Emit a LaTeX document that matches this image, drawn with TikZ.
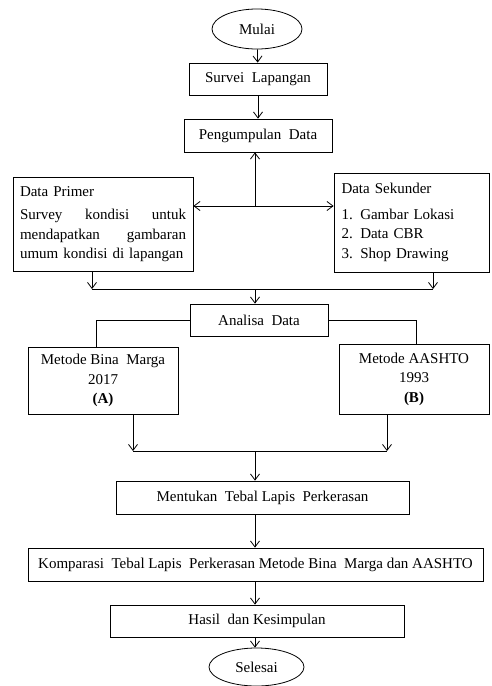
\documentclass[tikz,border=0pt]{standalone}
\usepackage{fontspec}
\setmainfont{Liberation Serif}
\usetikzlibrary{shapes.geometric, arrows.meta, positioning}

\begin{document}
\begin{tikzpicture}[x=1pt, y=-1pt,
  box/.style={draw, line width=0.8pt, align=center, inner sep=3pt},
  term/.style={draw, ellipse, line width=0.8pt, inner sep=0pt},
  arr/.style={-{Straight Barb[length=6pt,width=9pt]}, line width=0.8pt},
  font=\fontsize{15}{19.5}\selectfont]
  \useasboundingbox (0,0) rectangle (491,686);

  % alur utama
  \node[term, minimum width=90pt, minimum height=40pt] (mulai) at (257,29) {Mulai};
  \node[box, minimum width=138pt, minimum height=32pt] (survei) at (258,79) {Survei\ \ Lapangan};
  \node[box, minimum width=148pt, minimum height=33pt] (kumpul) at (258,135.5) {Pengumpulan\ \ Data};

  \node[box, minimum width=180pt, minimum height=94pt, text width=166pt, align=left, inner sep=7pt] (primer) at (103,224)
    {Data Primer\\[4pt]
     Survey\hfill kondisi\hfill untuk\\
     mendapatkan\hfill gambaran\\
     \mbox{umum kondisi di lapangan}};
  \node[box, minimum width=155pt, minimum height=99pt, text width=140pt, align=left, inner sep=7pt] (sekunder) at (411.5,222.5)
    {Data Sekunder\\[6pt]
     1. Gambar Lokasi\\
     2. Data CBR\\
     3. Shop Drawing};

  \node[box, minimum width=138pt, minimum height=32pt] (analisa) at (259,320) {Analisa\ \ Data};
  \node[box, minimum width=150pt, minimum height=67pt] (bina) at (103,380.5)
    {Metode Bina\ \ Marga\\2017\\\textbf{(A)}};
  \node[box, minimum width=150pt, minimum height=70pt] (aashto) at (414,379)
    {Metode AASHTO\\1993\\\textbf{(B)}};

  \node[box, minimum width=293pt, minimum height=33pt] (mentukan) at (262.5,497.5) {Mentukan\ \ Tebal Lapis\ \ Perkerasan};
  \node[box, minimum width=455pt, minimum height=33pt] (komparasi) at (255.5,564.5)
    {Komparasi\ \ Tebal Lapis\ \ Perkerasan Metode Bina\ \ Marga dan AASHTO};
  \node[box, minimum width=294pt, minimum height=32pt] (hasil) at (257,621) {Hasil\ \ dan Kesimpulan};
  \node[term, minimum width=95pt, minimum height=38pt] (selesai) at (256.5,667) {Selesai};

  % titik cabang
  \coordinate (pecah) at (255,206);
  \coordinate (kiri1) at (92,289);
  \coordinate (kanan1) at (433,289);
  \coordinate (gabung1) at (255,289);
  \coordinate (cabangA) at (96,316);
  \coordinate (cabangB) at (416,316);
  \coordinate (kiri2) at (133,451);
  \coordinate (kanan2) at (387,451);
  \coordinate (gabung2) at (255,451);

  \draw[arr] (mulai) -- (survei);
  \draw[arr] (survei) -- (kumpul);
  \draw[arr] (pecah) -- (kumpul.south -| pecah);
  \draw[arr] (pecah) -- (pecah -| primer.east);
  \draw[arr] (pecah) -- (pecah -| sekunder.west);

  \draw[arr] (kiri1 |- primer.south) -- (kiri1);
  \draw[arr] (kanan1 |- sekunder.south) -- (kanan1);
  \draw[line width=0.8pt] (kiri1) -- (kanan1);
  \draw[arr] (gabung1) -- (gabung1 |- analisa.north);

  \draw[line width=0.8pt] (analisa.west) -| (cabangA |- bina.north);
  \draw[line width=0.8pt] (analisa.east) -| (cabangB |- aashto.north);

  \draw[arr] (kiri2 |- bina.south) -- (kiri2);
  \draw[arr] (kanan2 |- aashto.south) -- (kanan2);
  \draw[line width=0.8pt] (kiri2) -- (kanan2);
  \draw[arr] (gabung2) -- (gabung2 |- mentukan.north);

  \draw[arr] (gabung2 |- mentukan.south) -- (gabung2 |- komparasi.north);
  \draw[arr] (gabung2 |- komparasi.south) -- (gabung2 |- hasil.north);
  \draw[arr] (gabung2 |- hasil.south) -- (gabung2 |- selesai.north);
\end{tikzpicture}
\end{document}
